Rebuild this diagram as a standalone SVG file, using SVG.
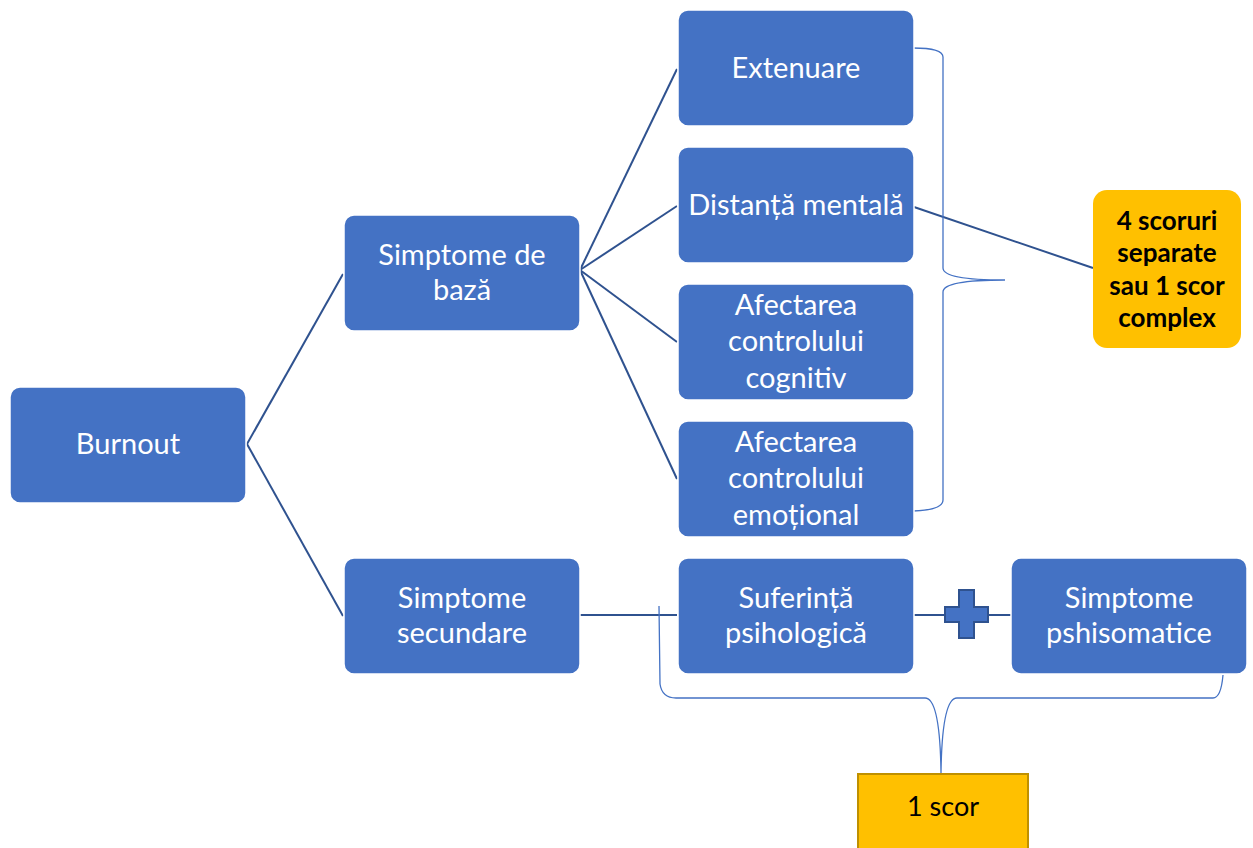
<svg xmlns="http://www.w3.org/2000/svg" width="1253" height="848" viewBox="0 0 1253 848">
<style>
.box{fill:#4472C4;stroke:#ffffff;stroke-width:1.5}
.t{font-family:Lato,"Open Sans",sans-serif;font-size:29px;fill:#ffffff;text-anchor:middle}
.tb{font-family:Lato,"Open Sans",sans-serif;font-size:26px;font-weight:bold;fill:#000000;text-anchor:middle}
.tk{font-family:Lato,"Open Sans",sans-serif;font-size:27px;fill:#000000;text-anchor:middle}
.ln{stroke:#2F528F;stroke-width:2;fill:none}
.br{stroke:#4472C4;stroke-width:1.3;fill:none}
</style>
<rect width="1253" height="848" fill="#ffffff"/>
<g id="connectors">
<line class="ln" x1="247" y1="444" x2="343" y2="274"/>
<line class="ln" x1="247" y1="444" x2="343" y2="616"/>
<line class="ln" x1="580" y1="270" x2="677" y2="69"/>
<line class="ln" x1="580" y1="270" x2="677" y2="206"/>
<line class="ln" x1="580" y1="270" x2="677" y2="342"/>
<line class="ln" x1="580" y1="270" x2="677" y2="479"/>
<line class="ln" x1="580" y1="615" x2="677" y2="615"/>
<line class="ln" x1="914" y1="615" x2="1011" y2="615"/>
<line class="ln" x1="914" y1="207" x2="1093" y2="268"/>
<path class="br" d="M913,48 Q943,48 943,57 L943,268 Q943,280 1005,280 Q943,280 943,292 L943,500 Q943,510 913,511"/>
<path class="br" d="M659,606 L660,684 Q662,698 676,698 L925,698 Q940,698 941,773 Q942,698 957,698 L1213,698 Q1221,698 1223,675"/>
</g>
<g id="burnout"><rect class="box" x="10" y="387" width="236" height="116" rx="10"/><text class="t" x="128" y="454">Burnout</text></g>
<g id="simptome-baza"><rect class="box" x="344" y="215" width="236" height="116" rx="10"/><text class="t" x="462" y="265">Simptome de</text><text class="t" x="462" y="300">bază</text></g>
<g id="simptome-secundare"><rect class="box" x="344" y="558" width="236" height="116" rx="10"/><text class="t" x="462" y="608">Simptome</text><text class="t" x="462" y="643">secundare</text></g>
<g id="extenuare"><rect class="box" x="678" y="10" width="236" height="116" rx="10"/><text class="t" x="796" y="78">Extenuare</text></g>
<g id="distanta"><rect class="box" x="678" y="147" width="236" height="116" rx="10"/><text class="t" x="796" y="215">Distanță mentală</text></g>
<g id="cognitiv"><rect class="box" x="678" y="284" width="236" height="116" rx="10"/><text class="t" x="796" y="315">Afectarea</text><text class="t" x="796" y="351">controlului</text><text class="t" x="796" y="388">cognitiv</text></g>
<g id="emotional"><rect class="box" x="678" y="421" width="236" height="116" rx="10"/><text class="t" x="796" y="452">Afectarea</text><text class="t" x="796" y="488">controlului</text><text class="t" x="796" y="525">emoțional</text></g>
<g id="suferinta"><rect class="box" x="678" y="558" width="236" height="116" rx="10"/><text class="t" x="796" y="608">Suferință</text><text class="t" x="796" y="643">psihologică</text></g>
<g id="plus"><path d="M959,590 L974,590 L974,607 L988,607 L988,622 L974,622 L974,638 L959,638 L959,622 L945,622 L945,607 L959,607 Z" fill="#4472C4" stroke="#2F528F" stroke-width="2"/></g>
<g id="psihosomatice"><rect class="box" x="1011" y="558" width="236" height="116" rx="10"/><text class="t" x="1129" y="608">Simptome</text><text class="t" x="1129" y="643">pshisomatice</text></g>
<g id="scoruri4"><rect x="1093" y="190" width="148" height="158" rx="14" fill="#FFC000"/><text class="tb" x="1167" y="230">4 scoruri</text><text class="tb" x="1167" y="262">separate</text><text class="tb" x="1167" y="295">sau 1 scor</text><text class="tb" x="1167" y="327">complex</text></g>
<g id="scor1"><rect x="858" y="774" width="170" height="80" fill="#FFC000" stroke="#BF9000" stroke-width="2"/><text class="tk" x="943" y="816">1 scor</text></g>
</svg>
